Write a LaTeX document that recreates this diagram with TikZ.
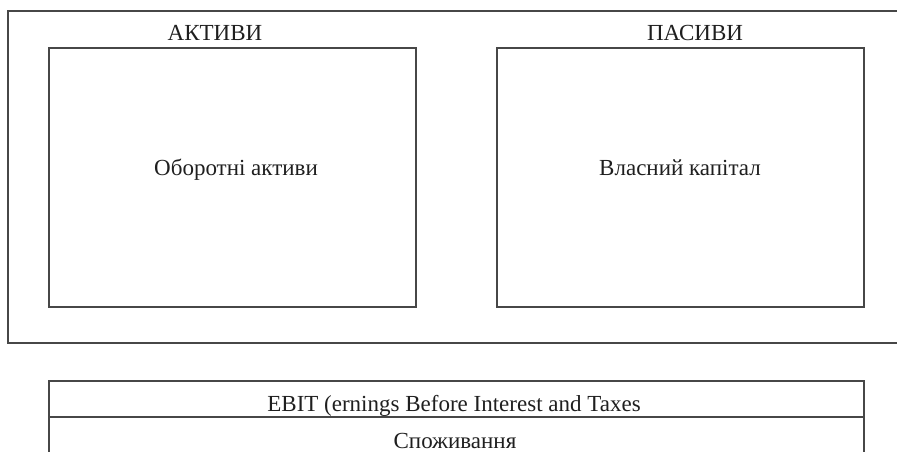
\documentclass[tikz,border=0pt]{standalone}
\usepackage{fontspec}
\setmainfont{Liberation Serif}
\begin{document}
\begin{tikzpicture}[x=1pt,y=-1pt,
  frame/.style={draw=black!72,line width=1.3pt},
  boxnode/.style={frame,rectangle,inner sep=0pt,outer sep=0pt},
  lbl/.style={font=\fontsize{23}{26}\selectfont,text=black!88,inner sep=0pt,anchor=base}]
\useasboundingbox (0,0) rectangle (897,452);
% outer frame (open at right, continues beyond the page)
\coordinate (otr) at (905,11);
\coordinate (otl) at (8,11);
\coordinate (obl) at (8,343);
\coordinate (obr) at (905,343);
\draw[frame] (otr) -- (otl) -- (obl) -- (obr);
% inner boxes
\node[boxnode,minimum width=367pt,minimum height=259pt] (assets) at (232.5,177.5) {};
\node[boxnode,minimum width=367pt,minimum height=259pt] (liab) at (680.5,177.5) {};
\node[lbl] (assetsT) at (215,41) {АКТИВИ};
\node[lbl] (liabT) at (695,41) {ПАСИВИ};
\node[lbl] (ca) at (236,175) {Оборотні активи};
\node[lbl] (eq) at (680,175) {Власний капітал};
% table at the bottom (continues beyond the page)
\node[boxnode,minimum width=815pt,minimum height=36pt] (row1) at (456.5,399) {};
\node[boxnode,minimum width=815pt,minimum height=80pt] (row2) at (456.5,457) {};
\node[lbl] (ebit) at (454,411) {EBIT (ernings Before Interest and Taxes};
\node[lbl] (cons) at (455,448) {Споживання};
\end{tikzpicture}
\end{document}
